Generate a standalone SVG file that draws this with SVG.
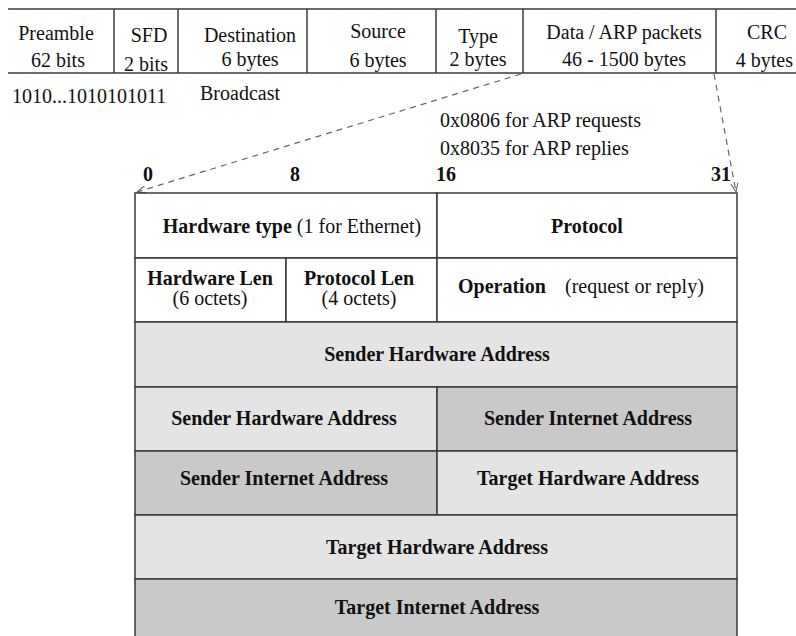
<svg xmlns="http://www.w3.org/2000/svg" width="796" height="636" viewBox="0 0 796 636">
<style>
.t{font-family:"Liberation Serif","Times New Roman",serif;font-size:20px;fill:#111}
.b{font-weight:bold}
.c{text-anchor:middle}
.ln{stroke:#3a3a3a;stroke-width:1.5;fill:none}
.cell{stroke:#3a3a3a;stroke-width:1.5}
.l1{fill:#e4e4e4}
.l2{fill:#c9c9c9}
.w{fill:#ffffff}
.dash{stroke:#666;stroke-width:1.2;stroke-dasharray:6,5;fill:none}
</style>
<defs>
<marker id="arr" viewBox="0 0 10 10" refX="10" refY="5" markerWidth="9" markerHeight="9" orient="auto" markerUnits="userSpaceOnUse">
<path d="M0,1 L10,5 L0,9" fill="none" stroke="#666" stroke-width="1.2"/>
</marker>
</defs>
<rect width="796" height="636" fill="#ffffff"/>

<g id="frame">
<line class="ln" x1="8" y1="9" x2="796" y2="9"/>
<line class="ln" x1="8" y1="73" x2="796" y2="73"/>
<line class="ln" x1="114" y1="9" x2="114" y2="73"/>
<line class="ln" x1="178" y1="9" x2="178" y2="73"/>
<line class="ln" x1="307" y1="9" x2="307" y2="73"/>
<line class="ln" x1="436" y1="9" x2="436" y2="73"/>
<line class="ln" x1="523" y1="9" x2="523" y2="73"/>
<line class="ln" x1="716" y1="9" x2="716" y2="73"/>
</g>
<g id="preamble"><text class="t c" x="56" y="40">Preamble</text><text class="t c" x="58" y="67">62 bits</text></g>
<g id="sfd"><text class="t c" x="149" y="42">SFD</text><text class="t c" x="146" y="71">2 bits</text></g>
<g id="destination"><text class="t c" x="250" y="42">Destination</text><text class="t c" x="250" y="66">6 bytes</text></g>
<g id="source"><text class="t c" x="378" y="38">Source</text><text class="t c" x="378" y="67">6 bytes</text></g>
<g id="type"><text class="t c" x="478" y="43">Type</text><text class="t c" x="478" y="66">2 bytes</text></g>
<g id="data"><text class="t c" x="624" y="39">Data / ARP packets</text><text class="t c" x="624" y="66">46 - 1500 bytes</text></g>
<g id="crc"><text class="t c" x="767" y="39">CRC</text><text class="t" x="793" y="67" text-anchor="end">4 bytes</text></g>

<g id="notes">
<text class="t" x="12" y="103">1010...1010101011</text>
<text class="t" x="200" y="100">Broadcast</text>
<text class="t" x="440" y="127">0x0806 for ARP requests</text>
<text class="t" x="440" y="155">0x8035 for ARP replies</text>
<text class="t b c" x="148" y="181">0</text>
<text class="t b c" x="295" y="181">8</text>
<text class="t b c" x="446" y="181">16</text>
<text class="t b c" x="721" y="181">31</text>
</g>

<g id="connectors">
<line class="dash" x1="521" y1="74" x2="137" y2="192" marker-end="url(#arr)"/>
<line class="dash" x1="714" y1="74" x2="736" y2="192" marker-end="url(#arr)"/>
</g>

<g id="hwtype"><rect class="cell w" x="135" y="193" width="302" height="65"/>
<text class="t c" x="292" y="233"><tspan class="b">Hardware type</tspan> (1 for Ethernet)</text></g>
<g id="protocol"><rect class="cell w" x="437" y="193" width="300" height="65"/>
<text class="t b c" x="587" y="233">Protocol</text></g>
<g id="hwlen"><rect class="cell w" x="135" y="258" width="151" height="64"/>
<text class="t b c" x="210" y="285">Hardware Len</text><text class="t c" x="210" y="305">(6 octets)</text></g>
<g id="protolen"><rect class="cell w" x="286" y="258" width="151" height="64"/>
<text class="t b c" x="359" y="285">Protocol Len</text><text class="t c" x="359" y="305">(4 octets)</text></g>
<g id="operation"><rect class="cell w" x="437" y="258" width="300" height="64"/>
<text class="t b" x="458" y="293">Operation</text><text class="t" x="565" y="293">(request or reply)</text></g>
<g id="sha1"><rect class="cell l1" x="135" y="322" width="602" height="65"/>
<text class="t b c" x="437" y="361">Sender Hardware Address</text></g>
<g id="sha2"><rect class="cell l1" x="135" y="387" width="302" height="64"/>
<text class="t b c" x="284" y="425">Sender Hardware Address</text></g>
<g id="sia1"><rect class="cell l2" x="437" y="387" width="300" height="64"/>
<text class="t b c" x="588" y="425">Sender Internet Address</text></g>
<g id="sia2"><rect class="cell l2" x="135" y="451" width="302" height="64"/>
<text class="t b c" x="284" y="485">Sender Internet Address</text></g>
<g id="tha1"><rect class="cell l1" x="437" y="451" width="300" height="64"/>
<text class="t b c" x="588" y="485">Target Hardware Address</text></g>
<g id="tha2"><rect class="cell l1" x="135" y="515" width="602" height="64"/>
<text class="t b c" x="437" y="554">Target Hardware Address</text></g>
<g id="tia"><rect class="cell l2" x="135" y="579" width="602" height="70"/>
<text class="t b c" x="437" y="614">Target Internet Address</text></g>
</svg>
